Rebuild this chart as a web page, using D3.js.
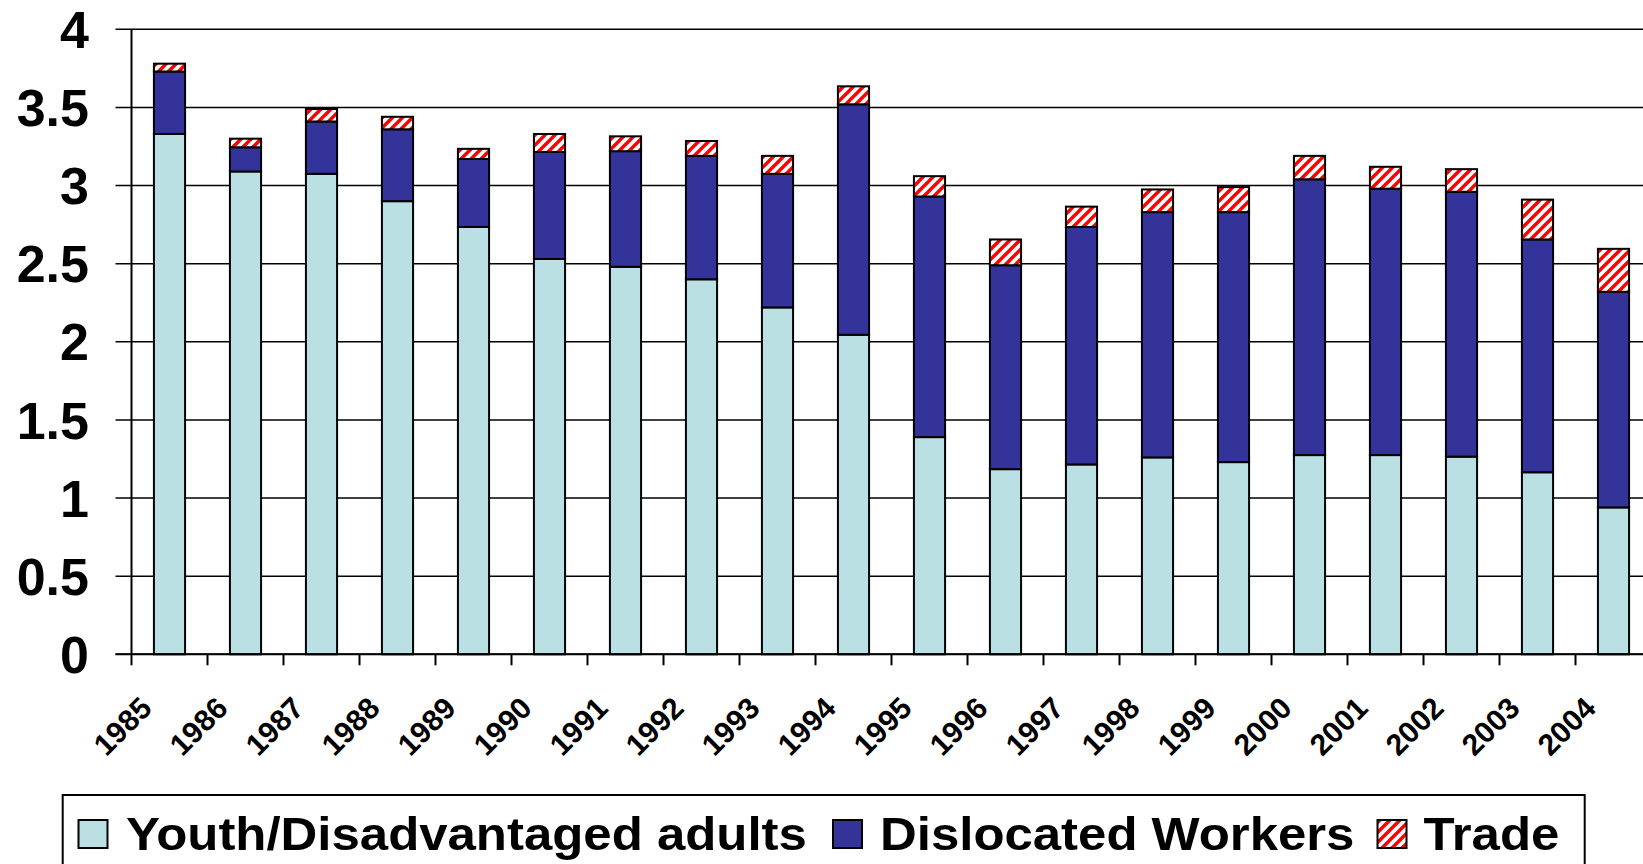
<!DOCTYPE html>
<html>
<head>
<meta charset="utf-8">
<script src="https://cdn.jsdelivr.net/npm/d3@7"></script>
<style>
  html, body { margin: 0; padding: 0; background: #fff; overflow: hidden; }
  svg { display: block; }
  text { font-family: "Liberation Sans", Arial, sans-serif; font-weight: bold; fill: #000; }
</style>
</head>
<body>
<svg id="chart" width="1643" height="864"></svg>
<script>
// ---- data ----
const years = ["1985","1986","1987","1988","1989","1990","1991","1992","1993","1994",
               "1995","1996","1997","1998","1999","2000","2001","2002","2003","2004"];
const youth      = [3.33,3.09,3.075,2.90,2.735,2.53,2.48,2.40,2.22,2.045,1.39,1.185,1.215,1.26,1.23,1.275,1.275,1.265,1.165,0.94];
const dislocated = [0.40,0.155,0.335,0.46,0.435,0.685,0.74,0.79,0.855,1.475,1.54,1.305,1.52,1.57,1.60,1.765,1.705,1.695,1.49,1.38];
const trade      = [0.05,0.055,0.08,0.08,0.065,0.115,0.095,0.095,0.115,0.115,0.13,0.165,0.13,0.145,0.16,0.15,0.14,0.145,0.255,0.275];
const seriesNames = ["Youth/Disadvantaged adults","Dislocated Workers","Trade"];
const yTickValues = [0,0.5,1,1.5,2,2.5,3,3.5,4];
const yTickLabels = ["0","0.5","1","1.5","2","2.5","3","3.5","4"];

(function(){
// ---- layout ----
const svg = d3.select("#chart");
const pLeft = 131.5, pRight = 1651.5, pTop = 29.3, pBottom = 654.3;

const table = years.map((yr,i) => ({year:yr, youth:youth[i], dislocated:dislocated[i], trade:trade[i]}));
const keys = ["youth","dislocated","trade"];
const stacked = d3.stack().keys(keys)(table);

const x = d3.scaleBand().domain(years).range([pLeft, pRight]).paddingInner(0.59).paddingOuter(0.295);
const y = d3.scaleLinear().domain([0,4]).range([pBottom, pTop]);

// pattern for Trade
const defs = svg.append("defs");
const P = 10;
const pat = defs.append("pattern").attr("id","hatch").attr("patternUnits","userSpaceOnUse")
  .attr("width",P).attr("height",P);
pat.append("rect").attr("width",P).attr("height",P).attr("fill","#fff");
pat.append("path").attr("d",`M-3,3 L3,-3 M0,${P} L${P},0 M${P-3},${P+3} L${P+3},${P-3}`)
  .attr("stroke","#ff0000").attr("stroke-width",3.4);

const fills = {youth:"#bbe0e3", dislocated:"#333399", trade:"url(#hatch)"};

// gridlines (with left tick extension)
svg.append("g").selectAll("line").data(yTickValues).join("line")
  .attr("x1", pLeft - 16).attr("x2", pRight)
  .attr("y1", d => y(d)).attr("y2", d => y(d))
  .attr("stroke","#000").attr("stroke-width",1.6);

// y labels
svg.append("g").selectAll("text").data(yTickValues).join("text")
  .attr("x", 89).attr("y", d => y(d) + 18.6)
  .attr("text-anchor","end").attr("font-size", 52)
  .text((d,i) => yTickLabels[i]);

// bars
svg.append("g").selectAll("g").data(stacked).join("g")
  .attr("fill", d => fills[d.key])
  .selectAll("rect").data(d => d).join("rect")
  .attr("x", d => x(d.data.year))
  .attr("width", x.bandwidth())
  .attr("y", d => y(d[1]))
  .attr("height", d => y(d[0]) - y(d[1]))
  .attr("stroke","#000").attr("stroke-width",2);

// y axis line
svg.append("line").attr("x1",pLeft).attr("x2",pLeft).attr("y1",pTop).attr("y2",pBottom)
  .attr("stroke","#000").attr("stroke-width",2);
// x axis line
svg.append("line").attr("x1",pLeft - 16).attr("x2",pRight).attr("y1",pBottom).attr("y2",pBottom)
  .attr("stroke","#000").attr("stroke-width",2);

// x ticks at category boundaries
const x0 = x.range()[0];
svg.append("g").selectAll("line").data(d3.range(years.length + 1)).join("line")
  .attr("x1", i => x0 + i * x.step()).attr("x2", i => x0 + i * x.step())
  .attr("y1", pBottom).attr("y2", pBottom + 11)
  .attr("stroke","#000").attr("stroke-width",2);

// x labels rotated
svg.append("g").selectAll("text").data(years).join("text")
  .attr("transform", d => `translate(${x(d) + x.bandwidth()/2 - 16},710) rotate(-45)`)
  .attr("text-anchor","end").attr("font-size", 30)
  .text(d => d);

// legend
const lg = svg.append("g");
lg.append("rect").attr("x",62.7).attr("y",795).attr("width",1522).attr("height",100)
  .attr("fill","#fff").attr("stroke","#000").attr("stroke-width",2);
const legendItems = [
  {key:"youth", sx:78.5, tx:126},
  {key:"dislocated", sx:833, tx:880},
  {key:"trade", sx:1377.5, tx:1423.5}
];
const sc = 1.107;
legendItems.forEach((it, i) => {
  lg.append("rect").attr("x", it.sx).attr("y", 820).attr("width", 29).attr("height", 28)
    .attr("fill", fills[it.key]).attr("stroke","#000").attr("stroke-width",2);
  lg.append("text").attr("transform", `translate(${it.tx},850) scale(${sc},1)`)
    .attr("font-size", 46).text(seriesNames[i]);
});
})();
</script>
</body>
</html>
